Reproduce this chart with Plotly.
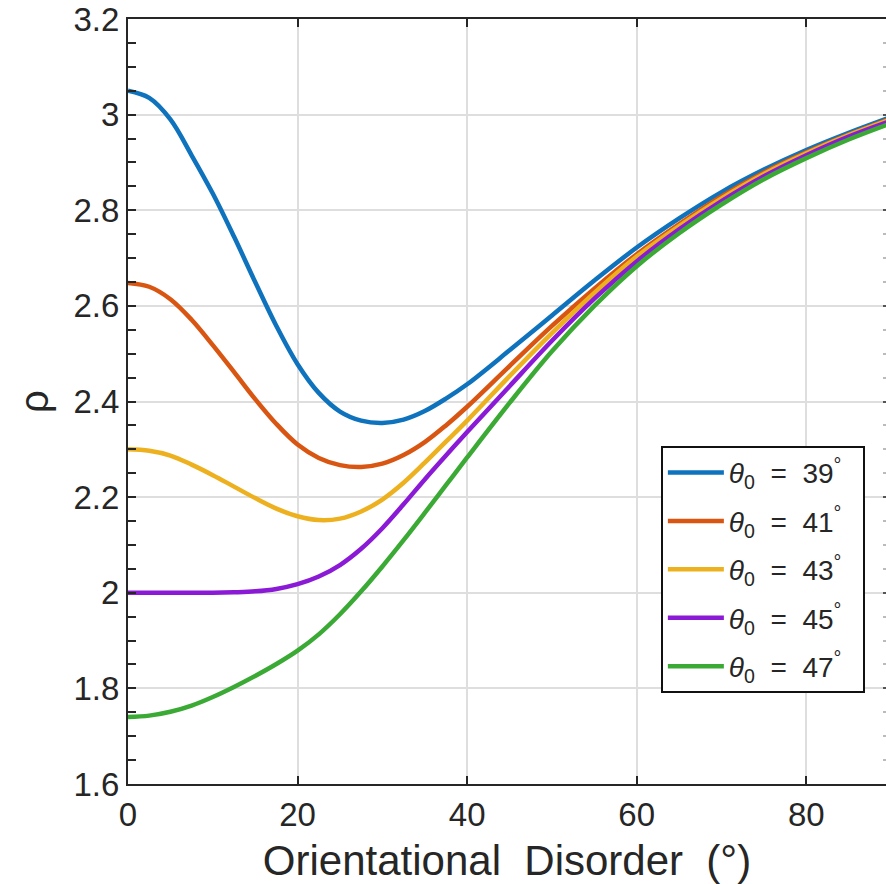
import plotly.graph_objects as go

# ---------------- data ----------------
x_deg = [0, 2.5, 5, 7.5, 10, 12.5, 15, 17.5, 20, 22.5, 25, 27.5, 30, 32.5,
         35, 37.5, 40, 45, 50, 55, 60, 65, 70, 75, 80, 85, 90]

rho_39 = [3.050, 3.035, 2.990, 2.915, 2.835, 2.745, 2.650, 2.558, 2.478, 2.418,
          2.379, 2.360, 2.355, 2.362, 2.380, 2.406, 2.436, 2.507, 2.580, 2.653,
          2.722, 2.783, 2.838, 2.885, 2.926, 2.962, 2.995]
rho_41 = [2.648, 2.640, 2.614, 2.571, 2.518, 2.462, 2.405, 2.353, 2.310, 2.282,
          2.267, 2.263, 2.270, 2.288, 2.315, 2.350, 2.389, 2.474, 2.558, 2.636,
          2.708, 2.771, 2.829, 2.879, 2.921, 2.958, 2.992]
rho_43 = [2.300, 2.297, 2.287, 2.268, 2.246, 2.222, 2.198, 2.176, 2.160, 2.152,
          2.155, 2.170, 2.195, 2.230, 2.272, 2.316, 2.360, 2.453, 2.543, 2.627,
          2.703, 2.767, 2.825, 2.876, 2.919, 2.957, 2.990]
rho_45 = [2.000, 2.000, 2.000, 2.000, 2.000, 2.001, 2.003, 2.008, 2.018, 2.034,
          2.058, 2.092, 2.135, 2.185, 2.237, 2.287, 2.336, 2.432, 2.527, 2.615,
          2.693, 2.760, 2.819, 2.871, 2.915, 2.954, 2.987]
rho_47 = [1.740, 1.743, 1.751, 1.764, 1.782, 1.803, 1.826, 1.851, 1.879, 1.913,
          1.955, 2.003, 2.055, 2.110, 2.167, 2.225, 2.283, 2.397, 2.505, 2.600,
          2.683, 2.752, 2.812, 2.865, 2.909, 2.948, 2.982]

theta0 = [39, 41, 43, 45, 47]
series = [rho_39, rho_41, rho_43, rho_45, rho_47]
colors = ["#0E72BD", "#D95512", "#EDB120", "#8A1AD6", "#3AAA35"]

x_ticks = [0, 20, 40, 60, 80]
y_ticks = [1.6, 1.8, 2.0, 2.2, 2.4, 2.6, 2.8, 3.0, 3.2]
y_tick_text = ["1.6", "1.8", "2", "2.2", "2.4", "2.6", "2.8", "3", "3.2"]

FONT = "Liberation Sans, Arial, Helvetica, sans-serif"
AXC = "#262626"
GRID = "#DEDEDE"

fig = go.Figure()
NB = "\u00a0"
for th, ys, c in zip(theta0, series, colors):
    fig.add_trace(go.Scatter(
        x=x_deg, y=ys, mode="lines",
        line=dict(color=c, width=4.5, shape="spline", smoothing=1.0),
        name=f"<i>θ</i><sub>0</sub>{NB}{NB}={NB}{NB}{th}<sup>°</sup>{NB}{NB}",
        legendgroup=f"g{th}",
    ))

# transparent copy on the right-hand axis so that its ticks are drawn
fig.add_trace(go.Scatter(x=x_deg, y=rho_39, yaxis="y2", mode="lines",
                         line=dict(color="rgba(0,0,0,0)", width=0),
                         showlegend=False, hoverinfo="skip"))

fig.update_layout(
    width=886, height=884,
    margin=dict(l=128, r=0, t=19, b=100),
    paper_bgcolor="white", plot_bgcolor="white",
    font=dict(family=FONT, color=AXC, size=33),
    showlegend=True,
    legend=dict(
        x=0.703, y=0.442, xanchor="left", yanchor="top",
        bgcolor="white", bordercolor="#111111", borderwidth=2,
        font=dict(family=FONT, size=28, color=AXC),
        itemwidth=56, traceorder="grouped", tracegroupgap=9,
    ),
    xaxis=dict(
        range=[0, 89.4],
        tickmode="array", tickvals=x_ticks,
        ticks="inside", ticklen=8, tickwidth=2, tickcolor=AXC,
        showline=True, linecolor=AXC, linewidth=2, mirror="ticks",
        showgrid=True, gridcolor=GRID, gridwidth=2,
        zeroline=False, ticklabeloverflow="allow",
        tickfont=dict(size=33, family=FONT, color=AXC),
        title=dict(text=f"Orientational{NB}{NB}Disorder{NB}{NB}(°)",
                   font=dict(size=42, family=FONT, color=AXC), standoff=15),
    ),
    yaxis=dict(
        range=[1.6, 3.2],
        tickmode="array", tickvals=y_ticks, ticktext=y_tick_text,
        ticks="inside", ticklen=8, tickwidth=2, tickcolor=AXC,
        minor=dict(dtick=0.05, ticks="inside", ticklen=8, tickwidth=2,
                   tickcolor=AXC, showgrid=False),
        showline=True, linecolor=AXC, linewidth=2, mirror=False,
        showgrid=True, gridcolor=GRID, gridwidth=2,
        zeroline=False, ticklabeloverflow="allow",
        tickfont=dict(size=33, family=FONT, color=AXC),
        title=dict(text="ρ", font=dict(size=40, family=FONT, color=AXC), standoff=13),
    ),
    yaxis2=dict(
        range=[1.6, 3.2], overlaying="y", side="right",
        tickmode="array", tickvals=y_ticks,
        ticks="inside", ticklen=3, tickwidth=2, tickcolor="#555555",
        minor=dict(dtick=0.05, ticks="inside", ticklen=3, tickwidth=2,
                   tickcolor="#BBBBBB", showgrid=False),
        showticklabels=False, showline=False, showgrid=False, zeroline=False,
    ),
)

fig.write_html("out.html")
